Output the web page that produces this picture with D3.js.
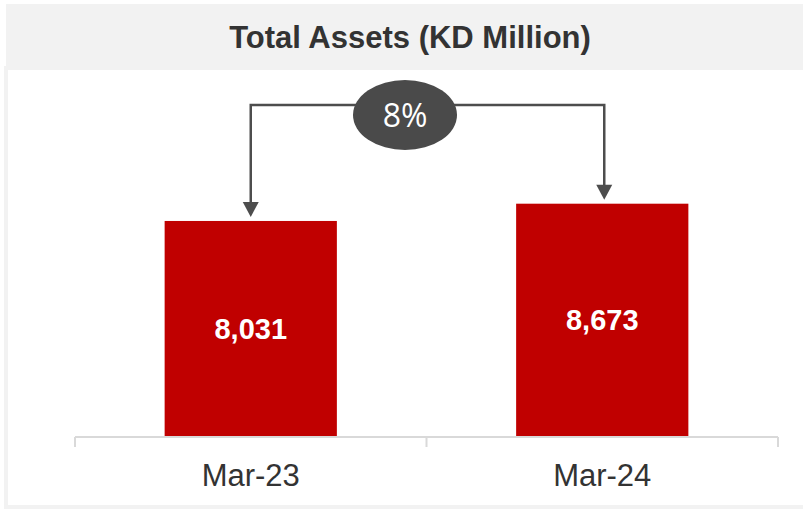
<!DOCTYPE html>
<html>
<head>
<meta charset="utf-8">
<script src="https://cdn.jsdelivr.net/npm/d3@7"></script>
<style>
  body { margin: 0; background: #fff; }
  svg { display: block; font-family: "Liberation Sans", Arial, sans-serif; }
</style>
</head>
<body>
<svg id="chart" width="803" height="509"></svg>
<script>
var title = "Total Assets (KD Million)";
var periods = ["Mar-23", "Mar-24"];
var assets = [8031, 8673];
var growthLabel = "8%";

var svg = d3.select('#chart');

// frame: grey title band + thin grey edges
svg.append('rect').attr('x', 6).attr('y', 4).attr('width', 797).attr('height', 66).attr('fill', '#f2f2f2');
svg.append('rect').attr('x', 4).attr('y', 66).attr('width', 4).attr('height', 441).attr('fill', '#f2f2f2');
svg.append('rect').attr('x', 4).attr('y', 505).attr('width', 799).attr('height', 4).attr('fill', '#f2f2f2');

svg.append('text')
   .attr('x', 410).attr('y', 48)
   .attr('text-anchor', 'middle')
   .attr('font-size', 31).attr('font-weight', 'bold')
   .attr('fill', '#333333')
   .text(title);

var x = d3.scaleBand().domain(periods).range([75, 778]).padding(0);
var y = d3.scaleLinear().domain([0, 10000]).range([437, 168]);
var barW = x.bandwidth() * 0.49;

function cx(d){ return x(d) + x.bandwidth() / 2; }

// bars
svg.append('g').selectAll('rect').data(periods).enter().append('rect')
   .attr('x', function(d){ return cx(d) - barW / 2; })
   .attr('y', function(d, i){ return y(assets[i]); })
   .attr('width', barW)
   .attr('height', function(d, i){ return y(0) - y(assets[i]); })
   .attr('fill', '#c00000');

// value labels
svg.append('g').selectAll('text').data(periods).enter().append('text')
   .attr('x', cx)
   .attr('y', function(d, i){ return (y(assets[i]) + y(0)) / 2 + 10; })
   .attr('text-anchor', 'middle')
   .attr('font-size', 29).attr('font-weight', 'bold')
   .attr('fill', '#ffffff')
   .text(function(d, i){ return d3.format(',')(assets[i]); });

// x axis
var xaxis = svg.append('g')
   .attr('transform', 'translate(0,' + y(0) + ')')
   .call(d3.axisBottom(x).tickSize(0).tickFormat(''));
xaxis.select('.domain').remove();
xaxis.selectAll('.tick').remove();
var tickXs = [75].concat(periods.map(function(d){ return x(d) + x.bandwidth(); }));
xaxis.append('line').attr('x1', 75).attr('x2', 778).attr('y1', 0).attr('y2', 0)
     .attr('stroke', '#d9d9d9').attr('stroke-width', 2);
xaxis.selectAll('line.tk').data(tickXs).enter().append('line').attr('class', 'tk')
     .attr('x1', function(d){ return d; }).attr('x2', function(d){ return d; })
     .attr('y1', 0).attr('y2', 10)
     .attr('stroke', '#d9d9d9').attr('stroke-width', 2);

svg.append('g').selectAll('text').data(periods).enter().append('text')
   .attr('x', cx).attr('y', 486)
   .attr('text-anchor', 'middle')
   .attr('font-size', 31)
   .attr('fill', '#333333')
   .text(function(d){ return d; });

// growth bracket
var lineTop = 105;
var lc = '#4d4d4d';
var x0 = cx(periods[0]), x1 = cx(periods[1]) + 2;
var tip0 = y(assets[0]) - 4, tip1 = y(assets[1]) - 4;
svg.append('path')
   .attr('d', 'M' + x0 + ',' + (tip0 - 14) + 'V' + lineTop + 'H' + x1 + 'V' + (tip1 - 14))
   .attr('fill', 'none').attr('stroke', lc).attr('stroke-width', 2.5);
[[x0, tip0], [x1, tip1]].forEach(function(p){
  svg.append('path')
     .attr('d', 'M' + (p[0] - 8) + ',' + (p[1] - 15) + 'L' + (p[0] + 8) + ',' + (p[1] - 15) + 'L' + p[0] + ',' + p[1] + 'Z')
     .attr('fill', lc);
});

var ecx = (x0 + x1) / 2 - 23;
svg.append('ellipse').attr('cx', 405).attr('cy', 115).attr('rx', 52).attr('ry', 35).attr('fill', '#4a4a4a');
svg.append('text')
   .attr('x', 405).attr('y', 126.5)
   .attr('text-anchor', 'middle')
   .attr('font-family', '"Open Sans", sans-serif')
   .attr('font-size', 32)
   .attr('fill', '#ffffff')
   .text(growthLabel);
</script>
</body>
</html>
